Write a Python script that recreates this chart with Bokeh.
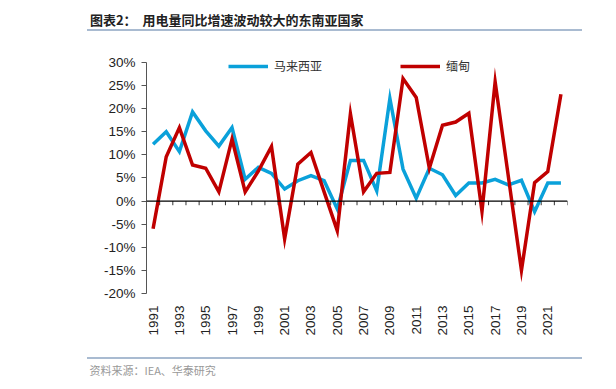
from math import pi
from bokeh.plotting import figure
from bokeh.layouts import column
from bokeh.models import (Range1d, FixedTicker, PrintfTickFormatter, Span, Div,
                          Legend, LegendItem, ColumnDataSource)
from bokeh.embed import file_html
from bokeh.resources import INLINE

# ---- data ----
years = [1991, 1992, 1993, 1994, 1995, 1996, 1997, 1998, 1999, 2000,
         2001, 2002, 2003, 2004, 2005, 2006, 2007, 2008, 2009, 2010,
         2011, 2012, 2013, 2014, 2015, 2016, 2017, 2018, 2019, 2020,
         2021, 2022]
malaysia = [12.3, 15.0, 10.7, 19.3, 15.2, 11.9, 15.9, 4.7, 7.3, 6.0,
            2.6, 4.4, 5.5, 4.4, -1.7, 8.8, 8.8, 2.2, 22.2, 6.9,
            0.6, 7.1, 5.7, 1.2, 3.9, 3.9, 4.7, 3.5, 4.5, -2.3,
            3.9, 3.9]
myanmar = [-6.0, 9.6, 15.9, 7.8, 7.1, 2.0, 13.4, 2.0, 6.5, 11.8,
           -8.2, 8.0, 10.5, 2.0, -6.4, 18.9, 2.0, 6.0, 6.2, 26.5,
           22.4, 7.1, 16.4, 17.1, 19.0, -2.2, 25.8, 5.4, -15.0, 4.0,
           6.4, 23.1]
label_years = years[::2]
y_ticks = [-20, -15, -10, -5, 0, 5, 10, 15, 20, 25, 30]
series_names = ["马来西亚", "缅甸"]
title_text = "图表2：&nbsp;&nbsp;用电量同比增速波动较大的东南亚国家"
source_text = "资料来源：IEA、华泰研究"

BLUE = "#0AA1DA"
RED = "#C00000"
RULE = "#A9BBD1"
FONT = "Liberation Sans"
CJK = "Noto Sans CJK SC"

# ---- title block ----
title_div = Div(
    text=(f'<div style="margin:0 0 0 87px;width:495px;">'
          f'<div style="height:10px;"></div>'
          f'<div style="height:19px;line-height:19px;'
          f"font-family:'{CJK}';font-size:13px;font-weight:bold;color:#222;"
          f'white-space:nowrap;">&nbsp;{title_text}</div>'
          f'<div style="height:2px;background:{RULE};"></div>'
          f'</div>'),
    width=600, height=34, margin=0)

# ---- chart ----
src = ColumnDataSource(dict(x=years, m=malaysia, b=myanmar))

p = figure(width=600, height=318, output_backend="svg", toolbar_location=None,
           x_range=Range1d(years[0] - 0.5, years[-1] + 0.5),
           y_range=Range1d(y_ticks[0], 31.5),
           min_border_left=146, min_border_right=33,
           min_border_top=21, min_border_bottom=59, margin=0)
p.outline_line_color = None
p.grid.visible = False
p.background_fill_color = "white"
p.border_fill_color = None

p.yaxis.ticker = FixedTicker(ticks=y_ticks)
p.yaxis.bounds = (y_ticks[0], y_ticks[-1])
p.yaxis.formatter = PrintfTickFormatter(format="%d%%")
p.yaxis.axis_line_color = "#555555"
p.yaxis.major_tick_line_color = "#555555"
p.yaxis.major_tick_out = 5
p.yaxis.major_tick_in = 0
p.yaxis.minor_tick_line_color = None
p.yaxis.major_label_text_font = FONT
p.yaxis.major_label_text_font_size = "13.5px"
p.yaxis.major_label_text_color = "#222222"
p.yaxis.major_label_standoff = 6

p.xaxis.ticker = FixedTicker(ticks=label_years)
p.xaxis.axis_line_color = None
p.xaxis.major_tick_line_color = None
p.xaxis.minor_tick_line_color = None
p.xaxis.major_tick_out = 0
p.xaxis.major_tick_in = 0
p.xaxis.major_label_orientation = pi / 2
p.xaxis.major_label_standoff = 12
p.xaxis.major_label_text_font = FONT
p.xaxis.major_label_text_font_size = "13.5px"
p.xaxis.major_label_text_color = "#222222"

p.add_layout(Span(location=0, dimension="width", line_color="black", line_width=1.2))
bounds = [y - 0.5 for y in years] + [years[-1] + 0.5]
p.segment(x0=bounds, x1=bounds, y0=[0] * len(bounds), y1=[-0.9] * len(bounds),
          line_color="#333333", line_width=1)

r1 = p.line("x", "m", source=src, line_color=BLUE, line_width=3.5, line_join="miter")
r2 = p.line("x", "b", source=src, line_color=RED, line_width=3.5, line_join="miter")

legend = Legend(items=[LegendItem(label=series_names[0], renderers=[r1]),
                       LegendItem(label=series_names[1], renderers=[r2])],
                orientation="horizontal", location=(82, 219),
                glyph_width=40, glyph_height=14, label_standoff=6, spacing=78,
                padding=0, margin=0, border_line_color=None,
                background_fill_alpha=0,
                label_text_font=CJK, label_text_font_size="12px",
                label_text_color="#333333")
p.add_layout(legend, "center")

# ---- source block ----
source_div = Div(
    text=(f'<div style="margin:0 0 0 87px;width:495px;">'
          f'<div style="height:5px;"></div>'
          f'<div style="height:2px;background:{RULE};"></div>'
          f'<div style="height:22px;line-height:22px;'
          f"font-family:'{CJK}';font-size:11px;color:#999;white-space:nowrap;\">"
          f'&nbsp;{source_text}</div>'
          f'</div>'),
    width=600, height=33, margin=0)

layout = column(title_div, p, source_div, spacing=0)
open("out.html", "w").write(file_html(layout, INLINE))
